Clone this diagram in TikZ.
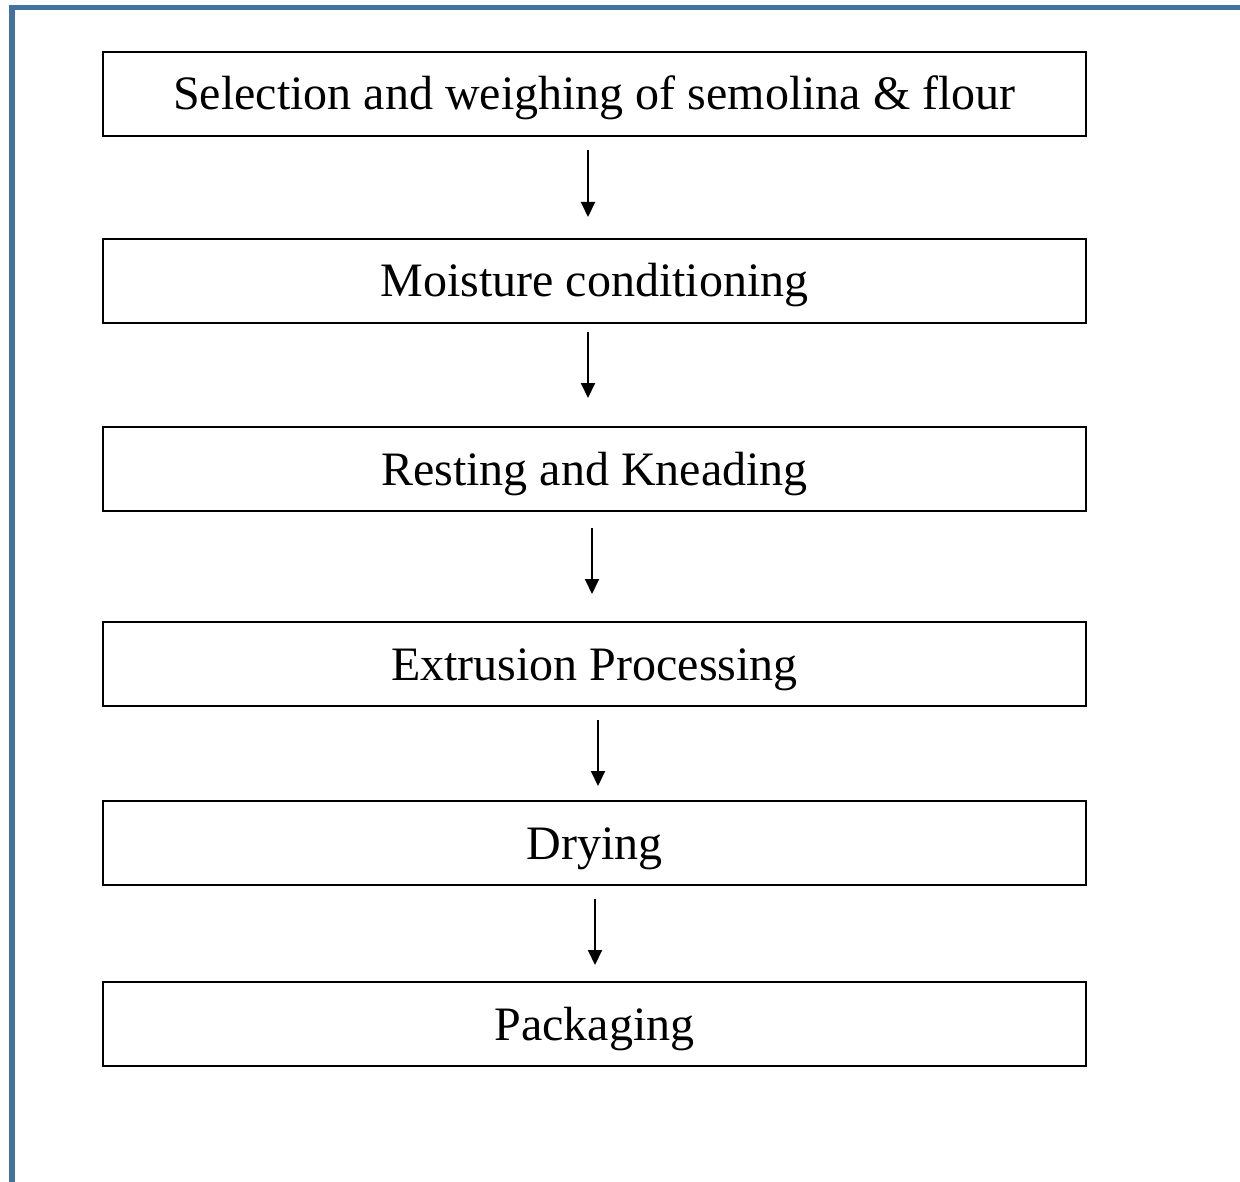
\documentclass[tikz,border=0pt]{standalone}
\usepackage{fontspec}
\setmainfont{Liberation Serif}
\usetikzlibrary{arrows.meta}
\definecolor{frameblue}{HTML}{44729F}
\begin{document}
\begin{tikzpicture}[x=1pt,y=-1pt,
  stepbox/.style={draw=black,line width=2.5pt,minimum width=983pt,minimum height=84pt,inner sep=0pt,text height=40pt,text depth=8pt,font=\fontsize{48}{54}\selectfont},
  flow/.style={line width=2pt,-{Triangle[width=14pt,length=15pt]}}]
\useasboundingbox (0,0) rectangle (1240,1182);
\fill[white] (0,0) rectangle (1240,1182);
\draw[frameblue,line width=5.5pt] (12,1182) -- (12,7.5) -- (1240,7.5);
\node[stepbox] (s1) at (594.5,94) {Selection and weighing of semolina \& flour};
\node[stepbox] (s2) at (594.5,281) {Moisture conditioning};
\node[stepbox] (s3) at (594.5,469) {Resting and Kneading};
\node[stepbox] (s4) at (594.5,664) {Extrusion Processing};
\node[stepbox] (s5) at (594.5,843) {Drying};
\node[stepbox] (s6) at (594.5,1024) {Packaging};
\coordinate (a1s) at (588,150); \coordinate (a1e) at (588,217);
\coordinate (a2s) at (588,332); \coordinate (a2e) at (588,398);
\coordinate (a3s) at (592,528); \coordinate (a3e) at (592,594);
\coordinate (a4s) at (598,720); \coordinate (a4e) at (598,786);
\coordinate (a5s) at (595,899); \coordinate (a5e) at (595,965);
\draw[flow] (a1s) -- (a1e);
\draw[flow] (a2s) -- (a2e);
\draw[flow] (a3s) -- (a3e);
\draw[flow] (a4s) -- (a4e);
\draw[flow] (a5s) -- (a5e);
\end{tikzpicture}
\end{document}
